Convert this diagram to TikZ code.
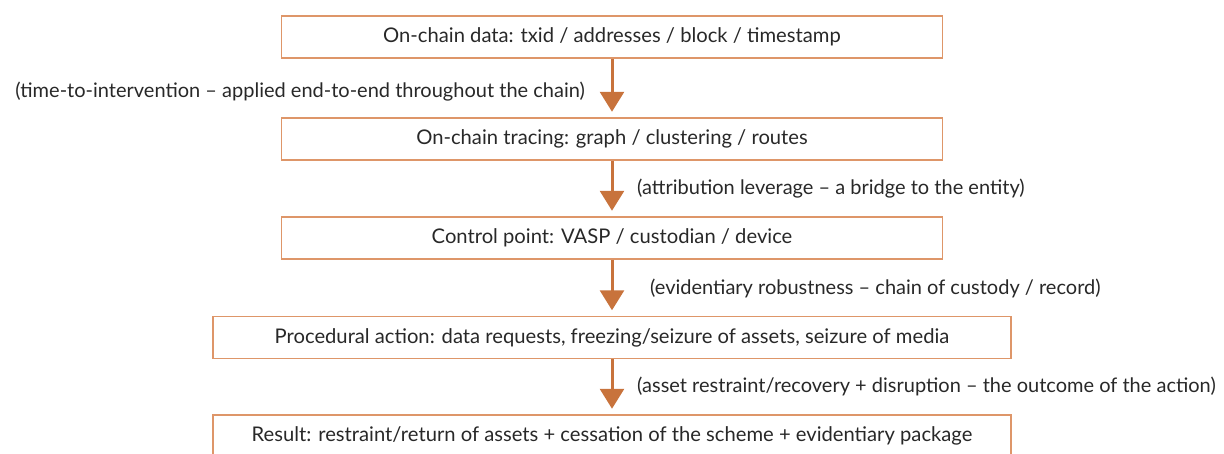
\documentclass[tikz,border=0pt]{standalone}
\usepackage{fontspec}
\setmainfont{Lato}
\usetikzlibrary{arrows.meta}
\definecolor{boxc}{RGB}{222,150,105}
\definecolor{arrc}{RGB}{200,115,60}
\definecolor{txtc}{RGB}{40,40,40}
\tikzset{
  stagebox/.style={draw=boxc, line width=1.5pt, minimum height=42pt, inner sep=0pt, text=txtc, font=\fontsize{20.2}{24}\selectfont},
  flowarrow/.style={draw=arrc, line width=3pt, -{Triangle[width=24pt,length=20pt]}, shorten >=5.5pt},
  note/.style={text=txtc, inner sep=0pt, font=\fontsize{20}{24}\selectfont}
}
\begin{document}
\begin{tikzpicture}[x=1pt,y=-1pt]
\useasboundingbox (0,0) rectangle (1224,453);
\node[stagebox, minimum width=661pt] (b1) at (612,37) {On-chain data: txid / addresses / block / timestamp};
\node[stagebox, minimum width=661pt] (b2) at (612,139) {On-chain tracing: graph / clustering / routes};
\node[stagebox, minimum width=661pt] (b3) at (612,238) {Control point: VASP / custodian / device};
\node[stagebox, minimum width=798pt] (b4) at (612,337.5) {Procedural action: data requests, freezing/seizure of assets, seizure of media};
\node[stagebox, minimum width=798pt] (b5) at (612,436) {Result: restraint/return of assets + cessation of the scheme + evidentiary package};
\draw[flowarrow] (b1.south) -- (b2.north);
\draw[flowarrow] (b2.south) -- (b3.north);
\draw[flowarrow] (b3.south) -- (b4.north);
\draw[flowarrow] (b4.south) -- (b5.north);
\node[note, anchor=east] (l1) at (585,92) {(time-to-intervention -- applied end-to-end throughout the chain)};
\node[note, anchor=west] (l2) at (637,189) {(attribution leverage -- a bridge to the entity)};
\node[note, anchor=west] (l3) at (650,288) {(evidentiary robustness -- chain of custody / record)};
\node[note, anchor=west] (l4) at (637,386) {(asset restraint/recovery + disruption -- the outcome of the action)};
\end{tikzpicture}
\end{document}
